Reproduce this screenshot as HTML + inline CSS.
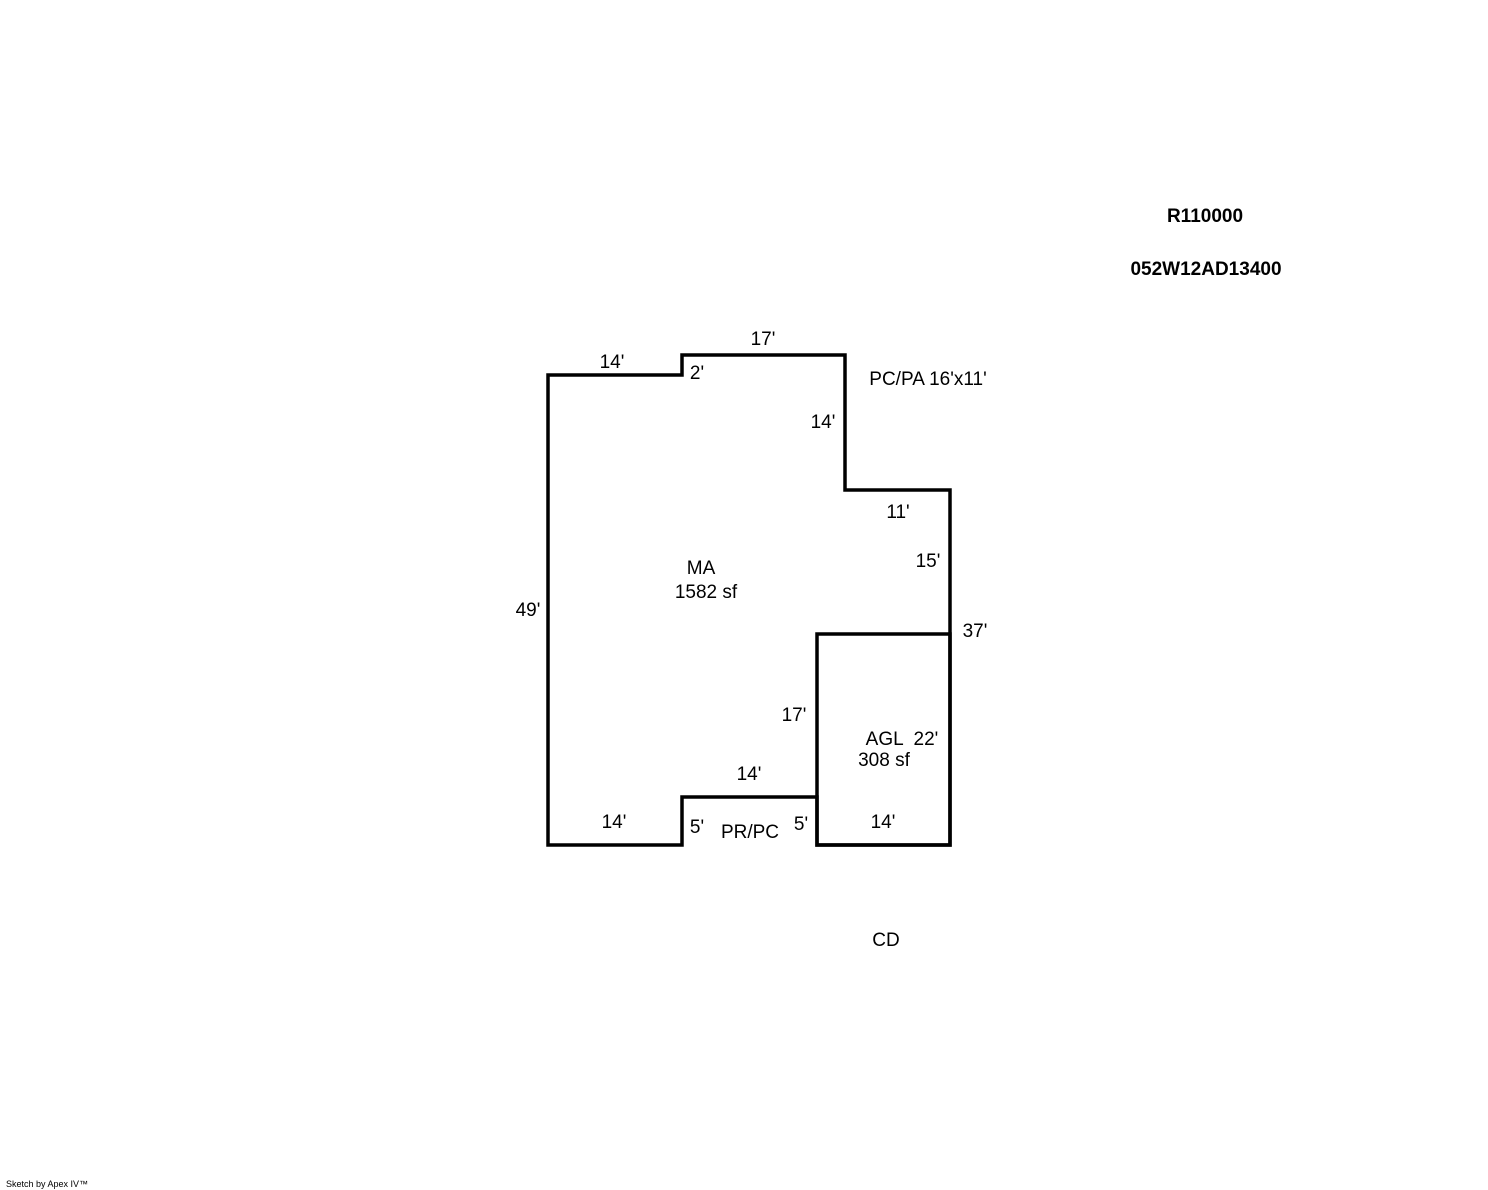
<!DOCTYPE html>
<html><head><style>
html,body{margin:0;padding:0;background:#fff;}
svg{display:block;}
text{font-family:"Liberation Sans",Arial,sans-serif;font-size:19px;fill:#000;}
</style></head><body>
<svg width="1488" height="1190" viewBox="0 0 1488 1190" xmlns="http://www.w3.org/2000/svg">
<g fill="none" stroke="#000" stroke-width="3.5" stroke-linejoin="miter">
<polygon points="548,375 682,375 682,355 845,355 845,490 950,490 950,845 817,845 817,797 682,797 682,845 548,845"/>
<polygon points="817,634 950,634 950,845 817,845"/>
</g>
<g text-anchor="middle">
<text x="1205" y="222" font-weight="bold">R110000</text>
<text x="1206" y="275" font-weight="bold">052W12AD13400</text>
<text x="763" y="345">17'</text>
<text x="612" y="368">14'</text>
<text x="697" y="379">2'</text>
<text x="928" y="385">PC/PA 16'x11'</text>
<text x="823" y="428">14'</text>
<text x="898" y="518">11'</text>
<text x="928" y="567">15'</text>
<text x="701" y="574">MA</text>
<text x="706" y="598">1582 sf</text>
<text x="528" y="616">49'</text>
<text x="975" y="637">37'</text>
<text x="794" y="721">17'</text>
<text x="902" y="745" xml:space="preserve">AGL  22'</text>
<text x="884" y="766">308 sf</text>
<text x="749" y="780">14'</text>
<text x="614" y="828">14'</text>
<text x="697" y="833">5'</text>
<text x="750" y="838">PR/PC</text>
<text x="801" y="830">5'</text>
<text x="883" y="828">14'</text>
<text x="886" y="946">CD</text>
</g>
<text x="6" y="1187" style="font-size:9px">Sketch by Apex IV™</text>
</svg>
</body></html>
